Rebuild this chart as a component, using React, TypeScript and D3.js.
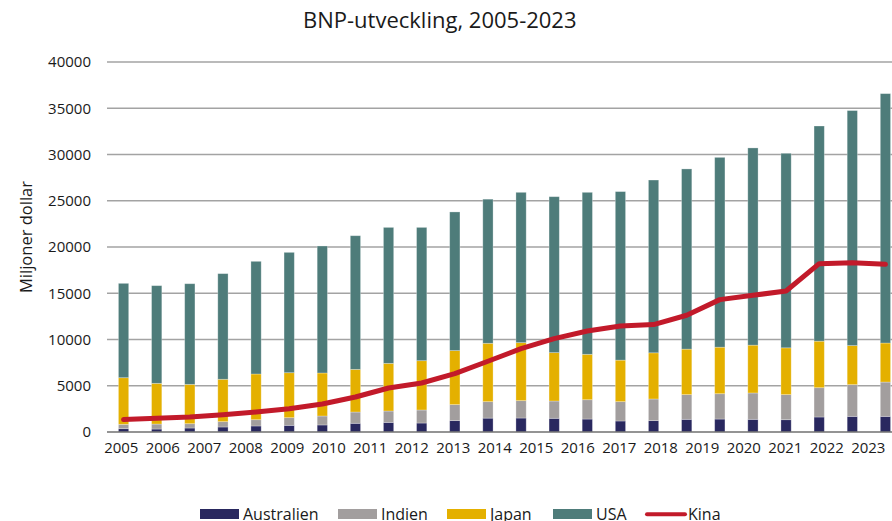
//@ts-nocheck
import React, { useRef, useEffect } from 'react'
import * as d3 from 'd3'

// one value per bar (24 bars), x labels are a separate run of 19 years
const xLabels = ['2005', '2006', '2007', '2008', '2009', '2010', '2011', '2012', '2013', '2014', '2015', '2016', '2017', '2018', '2019', '2020', '2021', '2022', '2023']
const australien = [360, 320, 430, 540, 650, 720, 760, 940, 1040, 970, 1230, 1500, 1510, 1480, 1400, 1190, 1230, 1370, 1400, 1370, 1330, 1620, 1690, 1690]
const indien = [470, 540, 470, 580, 680, 830, 970, 1220, 1230, 1410, 1730, 1780, 1880, 1870, 2090, 2090, 2340, 2670, 2740, 2850, 2710, 3170, 3430, 3710]
const japan = [5040, 4400, 4250, 4580, 4940, 4860, 4650, 4610, 5150, 5330, 5840, 6310, 6270, 5230, 4910, 4490, 4990, 4920, 5030, 5170, 5060, 5030, 4220, 4220]
const usa = [10200, 10560, 10880, 11420, 12180, 13010, 13730, 14450, 14700, 14410, 14990, 15580, 16250, 16860, 17510, 18220, 18680, 19480, 20520, 21320, 21030, 23260, 25410, 26960]
const kina = [1340, 1480, 1620, 1870, 2160, 2520, 3030, 3780, 4760, 5300, 6310, 7650, 9010, 10090, 10920, 11460, 11610, 12620, 14310, 14780, 15240, 18200, 18310, 18130]
const yTicks = [0, 5000, 10000, 15000, 20000, 25000, 30000, 35000, 40000]

const seriesNames = ['Australien', 'Indien', 'Japan', 'USA']
const lineName = 'Kina'

const colors = {
  Australien: '#29285f',
  Indien: '#a29e9e',
  Japan: '#e4b000',
  USA: '#4e7c7a',
  Kina: '#c21a2a'
}

const width = 892
const height = 521
const font = '"Open Sans", sans-serif'

const Chart = () => {
  const node = useRef(null)

  useEffect(() => {
    const svg = d3.select(node.current)
    svg.selectAll('*').remove()

    const margin = { top: 62, left: 107, bottom: 432, right: 902 }

    const rows = australien.map((a, i) => ({
      i,
      Australien: a,
      Indien: indien[i],
      Japan: japan[i],
      USA: usa[i]
    }))

    const x = d3
      .scaleBand()
      .domain(rows.map((d) => d.i))
      .range([margin.left, margin.right])
      .paddingInner(0.69)
      .paddingOuter(0.345)

    const xLab = d3.scalePoint().domain(xLabels).range([121.3, 868.3])

    const y = d3.scaleLinear().domain([0, 40000]).range([margin.bottom, margin.top])

    // grid
    svg
      .append('g')
      .selectAll('line')
      .data(yTicks.filter((t) => t > 0))
      .join('line')
      .attr('x1', margin.left)
      .attr('x2', width)
      .attr('y1', (d) => y(d))
      .attr('y2', (d) => y(d))
      .attr('stroke', '#a3a3a3')
      .attr('stroke-width', 1.3)

    // y labels
    svg
      .append('g')
      .selectAll('text')
      .data(yTicks)
      .join('text')
      .attr('x', 91)
      .attr('y', (d) => y(d))
      .attr('dy', '0.36em')
      .attr('text-anchor', 'end')
      .attr('font-family', font)
      .attr('font-size', 15)
      .attr('fill', '#1a1a1a')
      .text((d) => d)

    // stacked bars
    const stack = d3.stack().keys(seriesNames)(rows)
    svg
      .append('g')
      .selectAll('g')
      .data(stack)
      .join('g')
      .attr('fill', (s) => colors[s.key])
      .selectAll('rect')
      .data((s) => s)
      .join('rect')
      .attr('x', (d) => x(d.data.i))
      .attr('width', x.bandwidth())
      .attr('y', (d) => y(d[1]))
      .attr('height', (d) => y(d[0]) - y(d[1]))
      .attr('stroke', 'rgba(255,255,255,0.35)')
      .attr('stroke-width', 0.8)

    // baseline
    svg
      .append('line')
      .attr('x1', margin.left)
      .attr('x2', width)
      .attr('y1', y(0))
      .attr('y2', y(0))
      .attr('stroke', '#707070')
      .attr('stroke-width', 1.6)

    // Kina line
    const line = d3
      .line()
      .x((d, i) => x(i) + x.bandwidth() / 2)
      .y((d) => y(d))
    svg
      .append('path')
      .attr('d', line(kina))
      .attr('fill', 'none')
      .attr('stroke', colors.Kina)
      .attr('stroke-width', 5)
      .attr('stroke-linejoin', 'round')
      .attr('stroke-linecap', 'round')

    // x labels
    svg
      .append('g')
      .selectAll('text')
      .data(xLabels)
      .join('text')
      .attr('x', (d) => xLab(d))
      .attr('y', 453)
      .attr('text-anchor', 'middle')
      .attr('font-family', font)
      .attr('font-size', 15)
      .attr('fill', '#1a1a1a')
      .text((d) => d)

    // title
    svg
      .append('text')
      .attr('x', 303)
      .attr('y', 28)
      .attr('font-family', font)
      .attr('font-size', 22)
      .attr('fill', '#1a1a1a')
      .text('BNP-utveckling, 2005-2023')

    // y title
    svg
      .append('text')
      .attr('transform', 'translate(32,237) rotate(-90)')
      .attr('text-anchor', 'middle')
      .attr('font-family', font)
      .attr('font-size', 16.5)
      .attr('fill', '#1a1a1a')
      .text('Miljoner dollar')

    // legend
    const legendX = [200, 338, 447, 553]
    seriesNames.forEach((name, k) => {
      svg.append('rect').attr('x', legendX[k]).attr('y', 509).attr('width', 39).attr('height', 10).attr('fill', colors[name])
      svg
        .append('text')
        .attr('x', legendX[k] + 43)
        .attr('y', 519.5)
        .attr('font-family', font)
        .attr('font-size', 16)
        .attr('fill', '#1a1a1a')
        .text(name)
    })
    svg
      .append('line')
      .attr('x1', 647)
      .attr('x2', 685)
      .attr('y1', 514.3)
      .attr('y2', 514.3)
      .attr('stroke', colors.Kina)
      .attr('stroke-width', 4)
      .attr('stroke-linecap', 'round')
    svg
      .append('text')
      .attr('x', 688)
      .attr('y', 519.5)
      .attr('font-family', font)
      .attr('font-size', 16)
      .attr('fill', '#1a1a1a')
      .text(lineName)
  }, [node])

  return <svg ref={node} width={width} height={height} style={{ position: 'absolute', left: 0, top: 0, background: '#fff' }}></svg>
}

export default function App() {
  return <Chart />
}
